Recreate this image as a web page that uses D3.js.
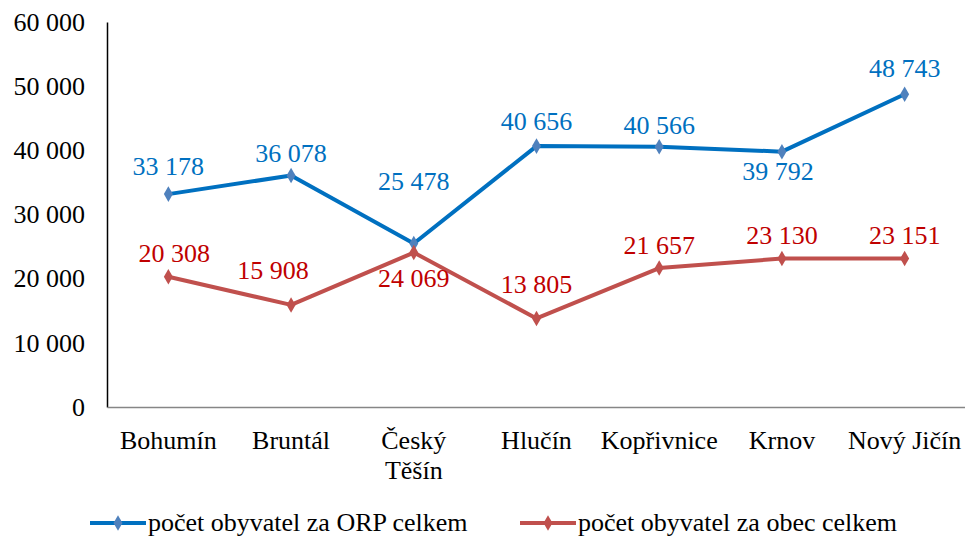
<!DOCTYPE html>
<html>
  <head>
    <meta charset="utf-8">
    <script src="https://d3js.org/d3.v7.min.js"></script>
    <style type="text/css">
      body { margin: 0; background: #fff; }
      svg { display: block; }
      svg text { font-family: "Liberation Serif", "Times New Roman", serif; }
    </style>
  </head>
  <body>
    <div id="chart"></div>
    <script type="text/javascript">
      var categories = ["Bohumín", "Bruntál", "Český Těšín", "Hlučín", "Kopřivnice", "Krnov", "Nový Jičín"];
      var orpValues = [33178, 36078, 25478, 40656, 40566, 39792, 48743];
      var obecValues = [20308, 15908, 24069, 13805, 21657, 23130, 23151];
      var yTicks = [0, 10000, 20000, 30000, 40000, 50000, 60000];
      var seriesNames = ["počet obyvatel za ORP celkem", "počet obyvatel za obec celkem"];

      // where each value label sits relative to its point
      var orpLabelDy = [-28, -23, -63, -25, -22, 19, -26];
      var orpLabelDx = [0, 0, 0, 0, 0, -4, 0];
      var obecLabelDy = [-24, -35, 25, -35, -23, -24, -24];
      var obecLabelDx = [6, -18, 0, 0, 0, 0, 0];

      var width = 965,
          height = 541,
          plotLeft = 107, plotRight = 966, plotTop = 22, plotBottom = 407,
          fontSize = 26;

      var fmt = function(v) { return d3.format(",")(v).replace(/,/g, " "); };

      var svg = d3.select("#chart")
        .append("svg")
        .attr("width", width)
        .attr("height", height)
        .attr("font-family", "'Liberation Serif', serif");

      var x = d3.scaleBand().domain(categories).range([plotLeft, plotRight]);
      var y = d3.scaleLinear().domain([0, 60000]).range([plotBottom, plotTop]);
      var cx = function(c) { return x(c) + x.bandwidth() / 2; };

      // y axis
      var yAxis = svg.append("g")
        .attr("transform", "translate(" + plotLeft + ",0)")
        .call(d3.axisLeft(y).tickValues(yTicks).tickFormat(fmt).tickSize(0).tickPadding(22));
      yAxis.attr("font-family", null);
      yAxis.select(".domain").attr("stroke", "#000").attr("stroke-width", 1.5);
      yAxis.selectAll("text")
        .attr("font-size", fontSize)
        .attr("fill", "#000");

      // x axis
      var xAxis = svg.append("g")
        .attr("transform", "translate(0," + plotBottom + ")")
        .call(d3.axisBottom(x).tickSize(0).tickFormat(""));
      xAxis.select(".domain").attr("stroke", "#868686").attr("stroke-width", 1.5);

      svg.append("g").selectAll("text")
        .data(categories)
        .enter()
          .append("text")
          .attr("x", function(d) { return cx(d); })
          .attr("y", plotBottom + 42)
          .attr("text-anchor", "middle")
          .attr("font-size", fontSize)
          .attr("fill", "#000")
          .each(function(d) {
            var el = d3.select(this);
            var words = d === "Český Těšín" ? d.split(" ") : [d];
            words.forEach(function(w, i) {
              el.append("tspan")
                .attr("x", cx(d))
                .attr("dy", i === 0 ? 0 : 30)
                .text(w);
            });
          });

      var line = d3.line()
        .x(function(d, i) { return cx(categories[i]); })
        .y(function(d) { return y(d); });

      var diamond = d3.symbol().type(d3.symbolDiamond).size(70);

      var series = [
        {values: orpValues, line: "#0070C0", marker: "#4F81BD", label: "#0070C0", dy: orpLabelDy, dx: orpLabelDx},
        {values: obecValues, line: "#C0504D", marker: "#C0504D", label: "#C00000", dy: obecLabelDy, dx: obecLabelDx}
      ];

      series.forEach(function(s) {
        var g = svg.append("g");
        g.append("path")
          .datum(s.values)
          .attr("d", line)
          .attr("fill", "none")
          .attr("stroke", s.line)
          .attr("stroke-width", 4)
          .attr("stroke-linejoin", "round");

        g.selectAll("path.marker")
          .data(s.values)
          .enter()
            .append("path")
            .attr("class", "marker")
            .attr("d", diamond)
            .attr("transform", function(d, i) { return "translate(" + cx(categories[i]) + "," + y(d) + ")"; })
            .attr("fill", s.marker);

        g.selectAll("text")
          .data(s.values)
          .enter()
            .append("text")
            .attr("x", function(d, i) { return cx(categories[i]) + s.dx[i]; })
            .attr("y", function(d, i) { return y(d) + s.dy[i]; })
            .attr("dy", "0.35em")
            .attr("text-anchor", "middle")
            .attr("font-size", fontSize)
            .attr("fill", s.label)
            .text(function(d) { return fmt(d); });
      });

      // legend
      var legendX = [90, 520];
      var legend = svg.append("g").selectAll("g")
        .data(series)
        .enter()
          .append("g")
          .attr("transform", function(d, i) { return "translate(" + legendX[i] + ",523)"; });

      legend.append("line")
        .attr("x1", 0).attr("x2", 56)
        .attr("stroke", function(d) { return d.line; })
        .attr("stroke-width", 4);
      legend.append("path")
        .attr("d", diamond)
        .attr("transform", "translate(28,0)")
        .attr("fill", function(d) { return d.marker; });
      legend.append("text")
        .attr("x", 58)
        .attr("dy", "0.32em")
        .attr("font-size", fontSize)
        .attr("fill", "#000")
        .text(function(d, i) { return seriesNames[i]; });
    </script>
  </body>
</html>
